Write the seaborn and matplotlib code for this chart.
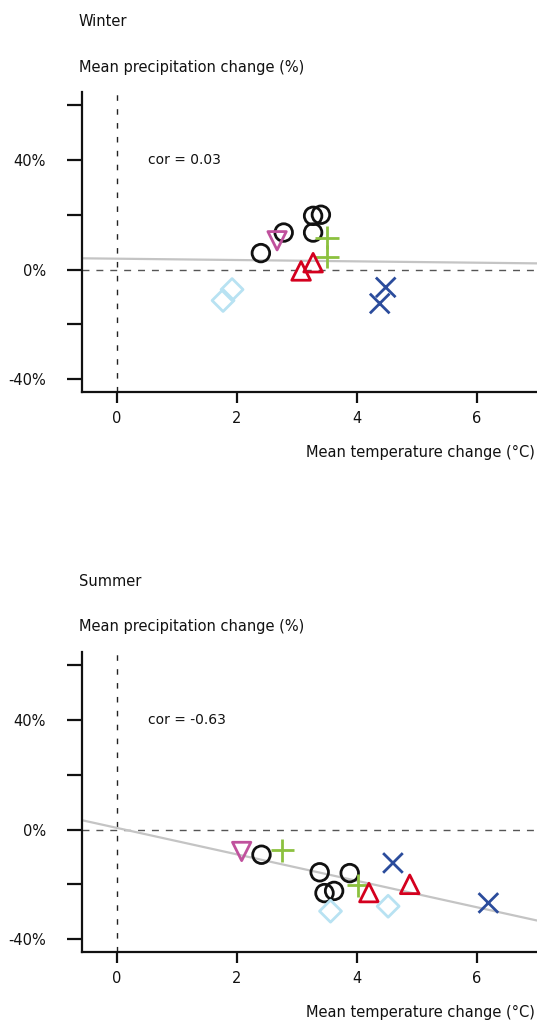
import numpy as np
import pandas as pd
import matplotlib
matplotlib.use("Agg")
import matplotlib.pyplot as plt
import seaborn as sns

# ---- data ----
groups = ["circle", "tri_down", "plus", "tri_up", "diamond", "cross"]
group_of_point = ["circle"] * 5 + ["tri_down"] + ["plus"] * 2 + ["tri_up"] * 2 + ["diamond"] * 2 + ["cross"] * 2

winter_temp = [2.40, 2.78, 3.27, 3.40, 3.27, 2.67, 3.50, 3.50, 3.07, 3.27, 1.77, 1.92, 4.38, 4.48]
winter_prec = [6.0, 13.5, 19.6, 20.0, 13.5, 10.5, 11.6, 4.7, -0.5, 2.5, -11.3, -7.3, -12.4, -6.5]

summer_temp = [2.41, 3.38, 3.88, 3.46, 3.62, 2.08, 2.76, 4.02, 4.20, 4.88, 3.56, 4.52, 4.60, 6.19]
summer_prec = [-9.2, -15.6, -15.9, -23.2, -22.4, -8.0, -7.6, -20.4, -23.0, -20.0, -29.8, -28.0, -12.2, -26.8]

# regression lines (intercept, slope)
winter_fit = (3.96, -0.244)
summer_fit = (0.6, -4.83)
winter_cor = "cor = 0.03"
summer_cor = "cor = -0.63"

marker_map = {"circle": "o", "tri_down": "v", "plus": "+", "tri_up": "^", "diamond": "D", "cross": "x"}
color_map = {"circle": "#111111", "tri_down": "#c0519d", "plus": "#8cc13f",
             "tri_up": "#d4001e", "diamond": "#b8e2f2", "cross": "#2b4c9c"}
size_map = {"circle": 160, "tri_down": 175, "plus": 280, "tri_up": 180, "diamond": 125, "cross": 200}

yticks = [-40, -20, 0, 20, 40, 60]
yticklabels = ["-40%", "", "0%", "", "40%", ""]
xticks = [0, 2, 4, 6]

# ---- style ----
sns.set_style("white")
plt.rcParams["font.family"] = ["DejaVu Sans"]
plt.rcParams["font.size"] = 10
plt.rcParams["text.color"] = "#111111"

fig = plt.figure(figsize=(5.37, 10.23), dpi=100)

W, H = 537.0, 1023.0


def make_axes(top_px, bottom_px):
    return fig.add_axes([82 / W, 1 - bottom_px / H, (537 - 82) / W, (bottom_px - top_px) / H])


def draw_panel(ax, temp, prec, fit, cor_text):
    df = pd.DataFrame({"temp": temp, "prec": prec, "group": group_of_point})
    ax.set_xlim(-0.58, 7.0)
    ax.set_ylim(-44.7, 64.8)
    ax.axvline(0, color="#222222", lw=1.0, ls=(0, (4, 6)), zorder=1)
    ax.axhline(0, color="#555555", lw=1.0, ls=(0, (5, 5)), zorder=1)
    xs = np.array([-0.58, 7.0])
    sns.lineplot(x=xs, y=fit[0] + fit[1] * xs, color="#c4c4c4", lw=1.6, ax=ax, zorder=2)
    for g in groups:
        sub = df[df["group"] == g]
        n_before = len(ax.collections)
        sns.scatterplot(data=sub, x="temp", y="prec", marker=marker_map[g],
                        color=color_map[g], s=size_map[g], linewidth=2.0, ax=ax,
                        legend=False, zorder=3)
        for coll in ax.collections[n_before:]:
            coll.set_facecolor("none")
            coll.set_edgecolor(color_map[g])
            coll.set_linewidth(2.0)
    ax.text(0.52, 40, cor_text, va="center", ha="left", fontsize=10)
    ax.set_xticks(xticks)
    ax.set_xticklabels([str(t) for t in xticks])
    ax.set_yticks(yticks)
    ax.set_yticklabels(yticklabels)
    ax.set_xlabel("")
    ax.set_ylabel("")
    for s in ["top", "right"]:
        ax.spines[s].set_visible(False)
    for s in ["left", "bottom"]:
        ax.spines[s].set_linewidth(1.6)
        ax.spines[s].set_color("#111111")
    ax.tick_params(axis="both", direction="out", width=1.6, color="#111111",
                   labelsize=10.5, labelcolor="#111111", left=True, bottom=True)
    ax.tick_params(axis="y", length=11, pad=15)
    ax.tick_params(axis="x", length=8, pad=6)
    ax.set_facecolor("none")


ax1 = make_axes(92, 392)
draw_panel(ax1, winter_temp, winter_prec, winter_fit, winter_cor)
ax2 = make_axes(652, 952)
draw_panel(ax2, summer_temp, summer_prec, summer_fit, summer_cor)

fs = 10.5
fig.text(79 / W, 1 - 21 / H, "Winter", ha="left", va="center", fontsize=fs)
fig.text(79 / W, 1 - 68 / H, "Mean precipitation change (%)", ha="left", va="center", fontsize=fs)
fig.text(535 / W, 1 - 452 / H, "Mean temperature change (°C)", ha="right", va="center", fontsize=fs)

fig.text(79 / W, 1 - 581 / H, "Summer", ha="left", va="center", fontsize=fs)
fig.text(79 / W, 1 - 627 / H, "Mean precipitation change (%)", ha="left", va="center", fontsize=fs)
fig.text(535 / W, 1 - 1012 / H, "Mean temperature change (°C)", ha="right", va="center", fontsize=fs)

fig.savefig("out.png", dpi=100)
